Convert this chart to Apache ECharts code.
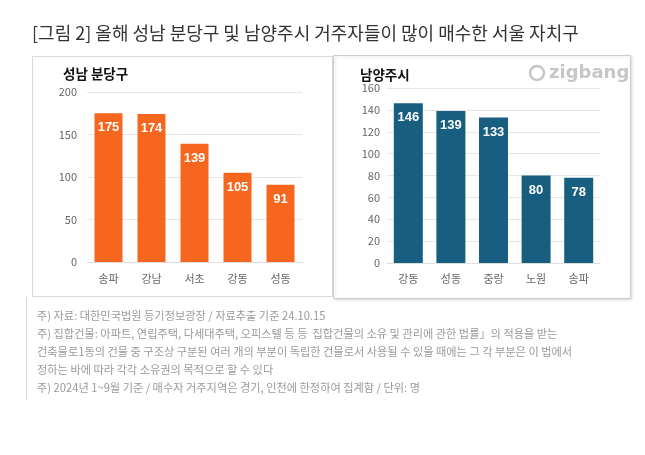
<!DOCTYPE html>
<html><head><meta charset="utf-8">
<script src="https://cdn.jsdelivr.net/npm/echarts@6/dist/echarts.min.js"></script>
<style>html,body{margin:0;padding:0;background:#fff}#c{width:645px;height:455px}</style>
</head><body><div id="c"></div>
<script>
const leftCats = ['송파','강남','서초','강동','성동'];
const leftVals = [175,174,139,105,91];
const rightCats = ['강동','성동','중랑','노원','송파'];
const rightVals = [146,139,133,80,78];
const leftTicks = {min:0,max:200,interval:50};
const rightTicks = {min:0,max:160,interval:20};
const chartTitle = '[그림 2] 올해 성남 분당구 및 남양주시 거주자들이 많이 매수한 서울 자치구';
const leftTitle = '성남 분당구';
const rightTitle = '남양주시';
const notes = [
 '주) 자료: 대한민국법원 등기정보광장 / 자료추출 기준 24.10.15',
 '주) 집합건물: 아파트, 연립주택, 다세대주택, 오피스텔 등 등  집합건물의 소유 및 관리에 관한 법률」의 적용을 받는',
 '건축물로1동의 건물 중 구조상 구분된 여러 개의 부분이 독립한 건물로서 사용될 수 있을 때에는 그 각 부분은 이 법에서',
 '정하는 바에 따라 각각 소유권의 목적으로 할 수 있다',
 '주) 2024년 1~9월 기준 / 매수자 거주지역은 경기, 인천에 한정하여 집계함 / 단위: 명'
];
const FONT = '"Noto Sans CJK KR","Noto Sans",sans-serif';
const chart = echarts.init(document.getElementById('c'));
const graphics = [
  {type:'rect',shape:{x:32.5,y:56.5,width:300,height:240},style:{fill:'none',stroke:'#d9d9d9',lineWidth:1},z:-1},
  {type:'rect',shape:{x:333.5,y:55.5,width:297,height:243},style:{fill:'#fff',stroke:'#cfcfcf',lineWidth:1,shadowBlur:3,shadowColor:'rgba(0,0,0,0.15)',shadowOffsetX:1,shadowOffsetY:1},z:-1},
  {type:'line',shape:{x1:26.5,y1:297,x2:26.5,y2:400},style:{stroke:'#d9d9d9',lineWidth:1}},
  {type:'text',x:32,y:33,style:{text:chartTitle,fill:'#333',font:'18px '+FONT,verticalAlign:'middle'}},
  {type:'text',x:63,y:74,style:{text:leftTitle,fill:'#111',font:'bold 13.5px '+FONT,verticalAlign:'middle'}},
  {type:'text',x:360,y:75,style:{text:rightTitle,fill:'#111',font:'bold 13.5px '+FONT,verticalAlign:'middle'}},
  {type:'text',x:549,y:73,style:{text:'zigbang',fill:'#c6c6c6',font:'bold 18px "DejaVu Sans",sans-serif',verticalAlign:'middle'}},
  {type:'circle',shape:{cx:537,cy:73,r:7},style:{fill:'none',stroke:'#c6c6c6',lineWidth:2.5}}
];
const noteYs = [316,334,352,370,388];
notes.forEach((t,i)=>{
  graphics.push({type:'text',x:37,y:noteYs[i],style:{text:t,fill:'#9a9a9a',font:'11.2px '+FONT,verticalAlign:'middle'}});
});
const axisLabel = {color:'#666',fontSize:11,fontFamily:FONT};
chart.setOption({
  animation:false,
  textStyle:{fontFamily:FONT},
  grid:[
    {left:87,top:92,width:215,height:170},
    {left:387,top:88,width:213,height:175}
  ],
  xAxis:[
    {type:'category',gridIndex:0,data:leftCats,axisTick:{show:false},axisLine:{lineStyle:{color:'#ddd'}},axisLabel:Object.assign({margin:11},axisLabel)},
    {type:'category',gridIndex:1,data:rightCats,axisTick:{show:false},axisLine:{lineStyle:{color:'#ddd'}},axisLabel:Object.assign({margin:10},axisLabel)}
  ],
  yAxis:[
    {type:'value',gridIndex:0,min:leftTicks.min,max:leftTicks.max,interval:leftTicks.interval,axisLabel:Object.assign({margin:10},axisLabel),splitLine:{lineStyle:{color:'#e6e6e6'}},axisLine:{show:false},axisTick:{show:false}},
    {type:'value',gridIndex:1,min:rightTicks.min,max:rightTicks.max,interval:rightTicks.interval,axisLabel:Object.assign({margin:7},axisLabel),splitLine:{lineStyle:{color:'#e6e6e6'}},axisLine:{show:false},axisTick:{show:false}}
  ],
  series:[
    {type:'bar',xAxisIndex:0,yAxisIndex:0,data:leftVals,barWidth:28,itemStyle:{color:'#F7661E'},
     label:{show:true,position:'insideTop',distance:8,color:'#fff',fontWeight:'bold',fontSize:13,fontFamily:'"Liberation Sans",Arial,sans-serif'}},
    {type:'bar',xAxisIndex:1,yAxisIndex:1,data:rightVals,barWidth:29,itemStyle:{color:'#185E80'},
     label:{show:true,position:'insideTop',distance:8,color:'#fff',fontWeight:'bold',fontSize:13,fontFamily:'"Liberation Sans",Arial,sans-serif'}}
  ],
  graphic:graphics
});
</script></body></html>
